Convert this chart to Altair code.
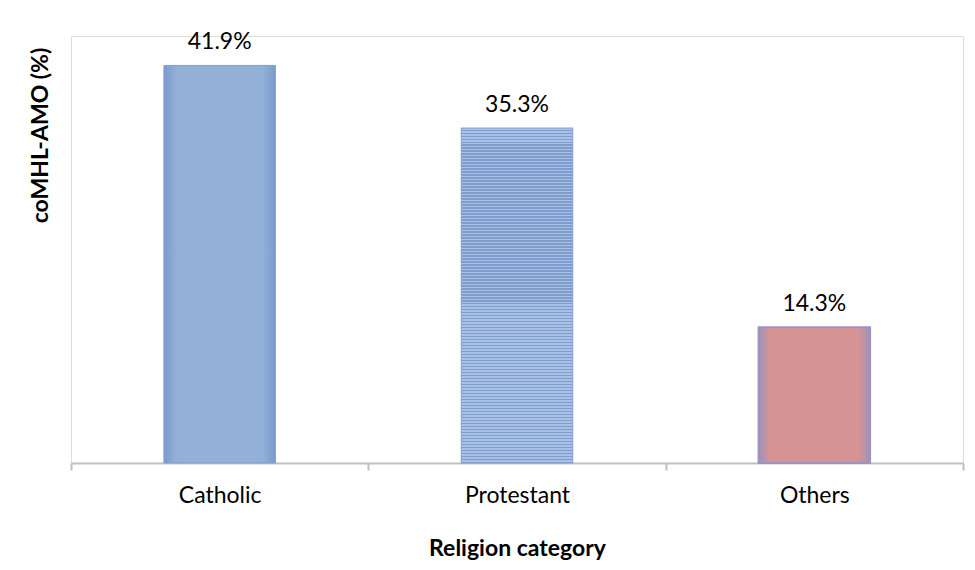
import altair as alt
import pandas as pd

categories = ["Catholic", "Protestant", "Others"]
values = [41.9, 35.3, 14.3]
labels = ["41.9%", "35.3%", "14.3%"]

df = pd.DataFrame({"cat": categories, "val": values, "lab": labels})

FONT = "Lato"
FS = 23

# fills (style only)
cath_grad = alt.Gradient(
    gradient="linear", x1=0, y1=0, x2=1, y2=0,
    stops=[alt.GradientStop(offset=0, color="#7B9BCB"),
           alt.GradientStop(offset=0.12, color="#93B1D8"),
           alt.GradientStop(offset=0.88, color="#93B1D8"),
           alt.GradientStop(offset=1, color="#7B9BCB")])

stripe_stops = []
n = 112
for i in range(n):
    a = i / n
    m = (i + 0.5) / n
    b = (i + 1) / n
    stripe_stops += [alt.GradientStop(offset=a, color="#A9C1E4"),
                     alt.GradientStop(offset=m, color="#A9C1E4"),
                     alt.GradientStop(offset=m, color="#7E9DCD"),
                     alt.GradientStop(offset=b, color="#7E9DCD")]
prot_grad = alt.Gradient(gradient="linear", x1=0, y1=0, x2=0, y2=1, stops=stripe_stops)

oth_grad = alt.Gradient(
    gradient="linear", x1=0, y1=0, x2=1, y2=0,
    stops=[alt.GradientStop(offset=0, color="#9C93BF"),
           alt.GradientStop(offset=0.1, color="#D59394"),
           alt.GradientStop(offset=0.9, color="#D59394"),
           alt.GradientStop(offset=1, color="#9C93BF")])

x_enc = alt.X("cat:N", sort=categories,
              scale=alt.Scale(paddingInner=0, paddingOuter=0),
              axis=alt.Axis(title="Religion category", labelAngle=0,
                            labelFont=FONT, labelFontSize=FS, labelColor="#000000",
                            labelPadding=14, tickBand="extent", tickSize=7,
                            tickColor="#BFBFBF", tickWidth=2,
                            domainColor="#BFBFBF", domainWidth=2,
                            titleFont=FONT, titleFontSize=FS, titleFontWeight="bold",
                            titleColor="#000000", titleBaseline="middle",
                            titleY=85))
y_enc = alt.Y("val:Q", scale=alt.Scale(domain=[0, 45], nice=False),
              axis=alt.Axis(title="coMHL-AMO (%)", labels=False, ticks=False,
                            domain=False, grid=False,
                            titleFont=FONT, titleFontSize=FS, titleFontWeight="bold",
                            titleColor="#000000", titleAngle=270, titleAlign="center",
                            titleBaseline="middle", titleX=-31, titleY=99))

base = alt.Chart(df)

def bar(cat, fill, stroke, sw):
    return base.transform_filter(alt.datum.cat == cat).mark_bar(
        width=alt.RelativeBandSize(0.375), color=fill, stroke=stroke, strokeWidth=sw
    ).encode(x=x_enc, y=y_enc)

bars = (bar("Catholic", cath_grad, "#7F9FCE", 1)
        + bar("Protestant", prot_grad, "#809FCE", 1)
        + bar("Others", oth_grad, "#9C93BF", 2))

text = base.mark_text(baseline="bottom", dy=-11, font=FONT, fontSize=FS,
                      color="#000000").encode(x=x_enc, y=y_enc, text="lab:N")

chart = (bars + text).properties(
    width=892, height=427,
    autosize=alt.AutoSizeParams(type="none"),
    padding={"left": 63, "top": 28, "right": 4, "bottom": 98},
).configure_view(stroke="#A7B9D9", strokeWidth=1.5).configure(background="#FFFFFF")

chart.save("out.html", embed_options={"renderer": "svg", "actions": False})
